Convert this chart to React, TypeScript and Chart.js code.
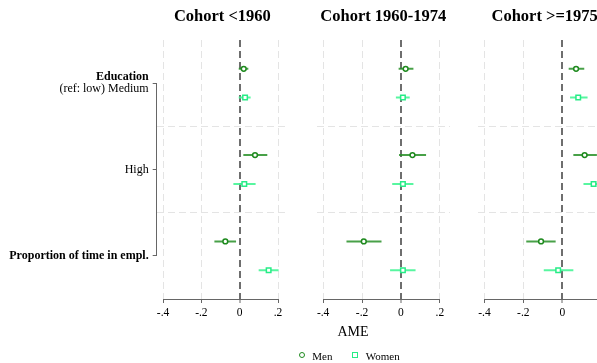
import React, { useEffect, useRef } from 'react';
import { Chart, registerables } from 'chart.js';

Chart.register(...registerables);

const FONT = "'Liberation Serif', 'Times New Roman', Times, serif";

// ---- data ----
const COHORTS = ['Cohort <1960', 'Cohort 1960-1974', 'Cohort >=1975'];
const SERIES = ['Men', 'Women'];
const ROW_LABELS = ['Education', '(ref: low) Medium', 'High', 'Proportion of time in empl.'];
const X_TICKS = [-0.4, -0.2, 0, 0.2];
const X_TICK_LABELS = ['-.4', '-.2', '0', '.2'];
const X_TITLE = 'AME';

// rows: Medium, High, Proportion of time in empl. ; one inner array per cohort
const MEN_EST = [
  [0.021, 0.080, -0.075],
  [0.024, 0.059, -0.191],
  [0.071, 0.115, -0.109],
];
const MEN_LO = [
  [-0.005, 0.019, -0.132],
  [-0.012, -0.010, -0.280],
  [0.033, 0.057, -0.185],
];
const MEN_HI = [
  [0.045, 0.144, -0.019],
  [0.064, 0.129, -0.100],
  [0.113, 0.178, -0.034],
];
const WOMEN_EST = [
  [0.028, 0.024, 0.151],
  [0.010, 0.010, 0.010],
  [0.082, 0.161, -0.021],
];
const WOMEN_LO = [
  [-0.005, -0.033, 0.099],
  [-0.026, -0.045, -0.056],
  [0.040, 0.109, -0.095],
];
const WOMEN_HI = [
  [0.057, 0.083, 0.203],
  [0.045, 0.064, 0.075],
  [0.130, 0.215, 0.057],
];

// ---- styles ----
const MARKER_COLORS = ['#1e8a1e', '#26ec86'];
const CI_COLORS = ['rgba(40,145,40,0.85)', 'rgba(70,245,150,0.9)'];
const GRID_COLOR = '#e4e4e4';
const ZERO_COLOR = '#6e6e6e';
const AXIS_COLOR = '#666666';

const PANELS = [
  { left: 0, width: 300, padL: 0, padR: 12, yWidth: 156.7, showY: true },
  { left: 310, width: 150, padL: 6.7, padR: 10, yWidth: 0, showY: false },
  { left: 470, width: 150, padL: 8, padR: 8.7, yWidth: 0, showY: false },
];

type TickDef = { value: number; label?: string; bold?: boolean; mark?: boolean; sep?: boolean };

function Panel({ idx }: { idx: number }) {
  const ref = useRef<HTMLCanvasElement>(null);
  const cfg = PANELS[idx];

  useEffect(() => {
    const canvas = ref.current;
    if (!canvas) return;
    const ests = [MEN_EST[idx], WOMEN_EST[idx]];
    const los = [MEN_LO[idx], WOMEN_LO[idx]];
    const his = [MEN_HI[idx], WOMEN_HI[idx]];
    const rowY = (i: number, s: number) => i * 3 + 1 + s;

    const datasets: any[] = [];
    for (let s = 0; s < SERIES.length; s++) {
      for (let i = 0; i < ests[s].length; i++) {
        datasets.push({
          label: SERIES[s] + ' CI',
          showLine: true,
          data: [
            { x: los[s][i], y: rowY(i, s) },
            { x: his[s][i], y: rowY(i, s) },
          ],
          borderColor: CI_COLORS[s],
          borderWidth: 2,
          pointRadius: 0,
          order: 2,
        });
      }
      datasets.push({
        label: SERIES[s],
        data: ests[s].map((v, i) => ({ x: v, y: rowY(i, s) })),
        pointStyle: s === 0 ? 'circle' : 'rect',
        pointRadius: s === 0 ? 2.4 : 3.2,
        pointBorderWidth: 1.5,
        pointBackgroundColor: '#ffffff',
        pointBorderColor: MARKER_COLORS[s],
        order: 1,
      });
    }

    const yDefs: TickDef[] = cfg.showY
      ? [
          { value: 1.275, label: ROW_LABELS[0], bold: true },
          { value: 1.5, label: '', mark: true },
          { value: 1.7, label: ROW_LABELS[1] },
          { value: 3, label: '', sep: true },
          { value: 4.5, label: ROW_LABELS[2], mark: true },
          { value: 6, label: '', sep: true },
          { value: 7.5, label: ROW_LABELS[3], bold: true, mark: true },
        ]
      : [
          { value: 3, label: '', sep: true },
          { value: 6, label: '', sep: true },
        ];

    const axisPlugin = {
      id: 'stataAxes',
      afterDraw(chart: any) {
        const { ctx, chartArea, scales } = chart;
        const xs = scales.x;
        const ys = scales.y;
        ctx.save();
        ctx.strokeStyle = AXIS_COLOR;
        ctx.lineWidth = 1;
        const yb = Math.round(chartArea.bottom) + 0.5;
        ctx.beginPath();
        ctx.moveTo(xs.getPixelForValue(X_TICKS[0]), yb);
        ctx.lineTo(xs.getPixelForValue(X_TICKS[X_TICKS.length - 1]), yb);
        ctx.stroke();
        if (cfg.showY) {
          const xl = Math.round(chartArea.left) - 0.5;
          ctx.beginPath();
          ctx.moveTo(xl, ys.getPixelForValue(1.5));
          ctx.lineTo(xl, ys.getPixelForValue(7.5));
          ctx.stroke();
        }
        ctx.restore();
      },
    };

    const chart = new Chart(canvas, {
      type: 'scatter',
      data: { datasets },
      plugins: [axisPlugin],
      options: {
        animation: false,
        responsive: false,
        maintainAspectRatio: false,
        layout: { padding: { left: cfg.padL, right: cfg.padR, top: 0, bottom: 0 } },
        plugins: { legend: { display: false }, tooltip: { enabled: false } },
        scales: {
          x: {
            type: 'linear',
            position: 'bottom',
            min: -0.433,
            max: 0.252,
            afterBuildTicks: (s: any) => {
              s.ticks = X_TICKS.map((v) => ({ value: v }));
            },
            afterFit: (s: any) => {
              s.height = 64;
            },
            border: { display: false, dash: [7, 4] },
            grid: {
              color: (c: any) => (X_TICKS[c.index] === 0 ? ZERO_COLOR : GRID_COLOR),
              lineWidth: (c: any) => (X_TICKS[c.index] === 0 ? 2 : 1),
              drawTicks: true,
              tickLength: 4,
              tickColor: AXIS_COLOR,
              tickWidth: 1,
              tickBorderDash: [],
            },
            ticks: {
              autoSkip: false,
              maxRotation: 0,
              padding: 3,
              color: '#000',
              font: { family: FONT, size: 11.5 },
              callback: (_v: any, i: number) => X_TICK_LABELS[i],
            },
          },
          xTop: {
            type: 'linear',
            position: 'top',
            min: 0,
            max: 1,
            grid: { display: false },
            border: { display: false },
            ticks: { display: false },
            title: {
              display: true,
              text: COHORTS[idx],
              color: '#000',
              font: { family: FONT, size: 16.5, weight: 'bold' },
              padding: { top: 7, bottom: 0 },
            },
            afterFit: (s: any) => {
              s.height = 40;
            },
          },
          y: {
            type: 'linear',
            position: 'left',
            reverse: true,
            min: 0,
            max: 9,
            afterBuildTicks: (s: any) => {
              s.ticks = yDefs.map((d) => ({ value: d.value }));
            },
            afterFit: (s: any) => {
              s.width = cfg.yWidth;
            },
            border: { display: false, dash: [7, 4] },
            grid: {
              color: (c: any) => (yDefs[c.index] && yDefs[c.index].sep ? GRID_COLOR : 'rgba(0,0,0,0)'),
              lineWidth: 1,
              drawTicks: cfg.showY,
              tickLength: 4,
              tickColor: (c: any) => (yDefs[c.index] && yDefs[c.index].mark ? AXIS_COLOR : 'rgba(0,0,0,0)'),
              tickWidth: 1,
              tickBorderDash: [],
            },
            ticks: {
              display: cfg.showY,
              autoSkip: false,
              padding: 4,
              color: '#000',
              font: (c: any) => ({
                family: FONT,
                size: 12,
                weight: yDefs[c.index] && yDefs[c.index].bold ? 'bold' : 'normal',
              }),
              callback: (_v: any, i: number) => (yDefs[i] ? yDefs[i].label : ''),
            },
          },
        },
      } as any,
    });
    return () => chart.destroy();
  }, [idx]);

  return (
    <canvas
      ref={ref}
      width={cfg.width}
      height={363}
      style={{ position: 'absolute', left: cfg.left, top: 0, width: cfg.width, height: 363, display: 'block' }}
    />
  );
}

export default function App() {
  return (
    <div
      style={{
        position: 'fixed',
        left: 0,
        top: 0,
        width: 597,
        height: 363,
        overflow: 'hidden',
        background: '#ffffff',
        fontFamily: FONT,
      }}
    >
      {COHORTS.map((_, i) => (
        <Panel key={i} idx={i} />
      ))}
      <div
        style={{
          position: 'absolute',
          left: 353,
          top: 324.7,
          transform: 'translateX(-50%)',
          fontSize: 14,
          lineHeight: '14px',
          color: '#000',
          whiteSpace: 'nowrap',
        }}
      >
        {X_TITLE}
      </div>
      <div
        style={{
          position: 'absolute',
          left: 298.5,
          top: 351.5,
          width: 4,
          height: 4,
          border: `1.5px solid ${MARKER_COLORS[0]}`,
          borderRadius: '50%',
        }}
      />
      <div
        style={{ position: 'absolute', left: 312.3, top: 350.5, fontSize: 11, lineHeight: '11px', color: '#000' }}
      >
        {SERIES[0]}
      </div>
      <div
        style={{
          position: 'absolute',
          left: 351.8,
          top: 351.8,
          width: 4.5,
          height: 4.5,
          border: `1.5px solid ${MARKER_COLORS[1]}`,
        }}
      />
      <div
        style={{ position: 'absolute', left: 365.7, top: 350.5, fontSize: 11, lineHeight: '11px', color: '#000' }}
      >
        {SERIES[1]}
      </div>
    </div>
  );
}
